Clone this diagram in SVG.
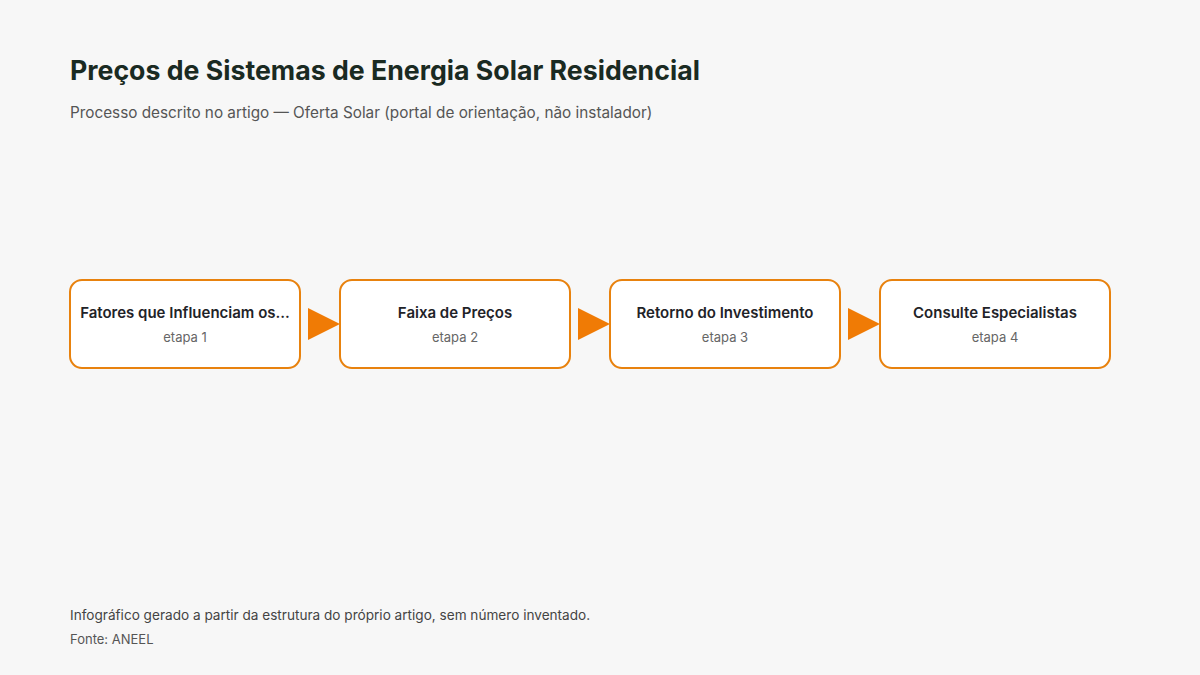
<svg xmlns="http://www.w3.org/2000/svg" width="1200" height="675" viewBox="0 0 1200 675">
<style>
text{font-family:Inter,"Liberation Sans",sans-serif}
.box{fill:#fff;stroke:#E8820E;stroke-width:2}
.t{font-size:15px;font-weight:600;fill:#1f2328;text-anchor:middle}
.s{font-size:13px;fill:#666;text-anchor:middle}
.arr{fill:#F07B05}
</style>
<rect width="1200" height="675" fill="#f7f7f7"/>
<text x="70" y="80" font-size="26.7" font-weight="700" fill="#1a2a22">Preços de Sistemas de Energia Solar Residencial</text>
<text x="70" y="118" font-size="15.3" fill="#555">Processo descrito no artigo — Oferta Solar (portal de orientação, não instalador)</text>
<g id="connectors">
<polygon class="arr" points="308,308 340,324 308,340"/>
<polygon class="arr" points="578,308 610,324 578,340"/>
<polygon class="arr" points="848,308 880,324 848,340"/>
</g>
<g id="n1"><rect class="box" x="70" y="280" width="230" height="88" rx="12"/><text class="t" x="185" y="318">Fatores que Influenciam os...</text><text class="s" x="185" y="342">etapa 1</text></g>
<g id="n2"><rect class="box" x="340" y="280" width="230" height="88" rx="12"/><text class="t" x="455" y="318">Faixa de Preços</text><text class="s" x="455" y="342">etapa 2</text></g>
<g id="n3"><rect class="box" x="610" y="280" width="230" height="88" rx="12"/><text class="t" x="725" y="318">Retorno do Investimento</text><text class="s" x="725" y="342">etapa 3</text></g>
<g id="n4"><rect class="box" x="880" y="280" width="230" height="88" rx="12"/><text class="t" x="995" y="318">Consulte Especialistas</text><text class="s" x="995" y="342">etapa 4</text></g>
<text x="70" y="620" font-size="13.6" fill="#444">Infográfico gerado a partir da estrutura do próprio artigo, sem número inventado.</text>
<text x="70" y="644" font-size="13" fill="#555">Fonte: ANEEL</text>
</svg>
